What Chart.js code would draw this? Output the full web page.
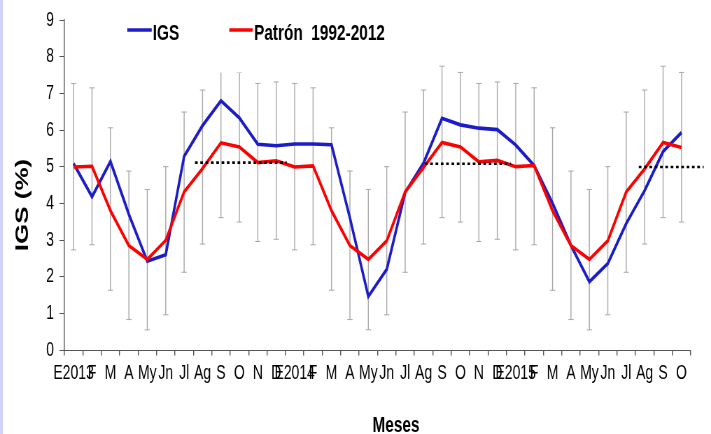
<!DOCTYPE html>
<html>
<head>
<meta charset="utf-8">
<script src="https://cdn.jsdelivr.net/npm/chart.js@4.4.1/dist/chart.umd.min.js"></script>
<style>
  html, body { margin: 0; padding: 0; background: #fff; overflow: hidden; }
  #wrap {
    position: absolute; left: 0; top: 0;
    width: 1016px; height: 434px;
    transform: scaleX(0.6998); transform-origin: 0 0;
  }
  #edge {
    position: absolute; left: 0; top: 0; width: 3px; height: 434px;
    background: #d2d2fa;
  }
</style>
</head>
<body>
<div id="wrap"><canvas id="igsChart"></canvas></div>
<div id="edge"></div>
<script>
// Months Jan 2013 - Oct 2015
const months = ["E2013", "F", "M", "A", "My", "Jn", "Jl", "Ag", "S", "O", "N", "D",
                "E2014", "F", "M", "A", "My", "Jn", "Jl", "Ag", "S", "O", "N", "D",
                "E2015", "F", "M", "A", "My", "Jn", "Jl", "Ag", "S", "O"];

// IGS (%) observed
const igs = [5.08, 4.18, 5.14, 3.70, 2.42, 2.60, 5.28, 6.12, 6.80, 6.33, 5.61, 5.57,
             5.62, 5.62, 5.60, 3.60, 1.46, 2.20, 4.30, 5.10, 6.32, 6.14, 6.05, 6.01,
             5.59, 5.03, 4.00, 2.85, 1.86, 2.36, 3.45, 4.35, 5.41, 5.93];

// Patron 1992-2012 (monthly mean)
const patron = [4.99, 5.01, 3.80, 2.85, 2.47, 2.99, 4.31, 4.95, 5.65, 5.54, 5.11, 5.16,
                4.99, 5.02, 3.80, 2.85, 2.47, 2.98, 4.31, 4.98, 5.66, 5.54, 5.13, 5.17,
                5.00, 5.03, 3.80, 2.85, 2.47, 2.98, 4.31, 4.94, 5.66, 5.52];

// error bar range of the pattern
const errLow = [2.73, 2.87, 1.63, 0.83, 0.55, 0.96, 2.12, 2.89, 3.61, 3.49, 2.96, 3.02,
                2.73, 2.87, 1.63, 0.83, 0.55, 0.96, 2.12, 2.89, 3.61, 3.49, 2.96, 3.02,
                2.73, 2.87, 1.63, 0.83, 0.55, 0.96, 2.12, 2.89, 3.61, 3.49];
const errHigh = [7.27, 7.15, 6.06, 4.88, 4.38, 5.00, 6.49, 7.09, 7.74, 7.57, 7.27, 7.31,
                 7.27, 7.15, 6.06, 4.88, 4.38, 5.00, 6.49, 7.09, 7.74, 7.57, 7.27, 7.31,
                 7.27, 7.15, 6.06, 4.88, 4.38, 5.00, 6.49, 7.09, 7.74, 7.57];

// dotted reference lines: [startIndex, endIndex, value]
const meanLines = [[6.59, 11.57, 5.11], [19.07, 23.74, 5.08], [30.68, 34.2, 4.99]];

const yTicks = [0, 1, 2, 3, 4, 5, 6, 7, 8, 9];

const FONT = "'Liberation Sans', Arial, sans-serif";
const SX = 0.6998; // horizontal squeeze of the wrapper

const errorBars = {
  id: 'errorBars',
  beforeDatasetsDraw(chart) {
    const ctx = chart.ctx, xs = chart.scales.x, ys = chart.scales.y;
    ctx.save();
    ctx.strokeStyle = '#a8a8a8';
    for (let i = 0; i < errLow.length; i++) {
      const x = xs.getPixelForValue(i);
      const y1 = ys.getPixelForValue(errLow[i]);
      const y2 = ys.getPixelForValue(errHigh[i]);
      ctx.lineWidth = 1 / SX;
      ctx.beginPath();
      ctx.moveTo(x, y1); ctx.lineTo(x, y2);
      ctx.stroke();
      ctx.lineWidth = 1;
      ctx.beginPath();
      ctx.moveTo(x - 3.8, y1); ctx.lineTo(x + 3.8, y1);
      ctx.moveTo(x - 3.8, y2); ctx.lineTo(x + 3.8, y2);
      ctx.stroke();
    }
    ctx.restore();
  }
};

const labelsPlugin = {
  id: 'labelsPlugin',
  afterDraw(chart) {
    const ctx = chart.ctx;
    ctx.save();
    // legend box (white, hides the tops of some bars as in the original)
    ctx.fillStyle = '#fff';
    ctx.fillRect(110 / SX, 4, 295 / SX, 68.5);

    const items = [
      { ds: chart.data.datasets[4], x0: 127.3, x1: 151.7, tx: 152.7 },
      { ds: chart.data.datasets[3], x0: 229.3, x1: 252.7, tx: 254 }
    ];
    ctx.font = 'bold 22px ' + FONT;
    ctx.textBaseline = 'alphabetic';
    ctx.textAlign = 'left';
    items.forEach(it => {
      ctx.strokeStyle = it.ds.borderColor;
      ctx.lineWidth = 3.5;
      ctx.beginPath();
      ctx.moveTo(it.x0 / SX, 30); ctx.lineTo(it.x1 / SX, 30);
      ctx.stroke();
      ctx.fillStyle = '#000';
      ctx.fillText(it.ds.label, it.tx / SX, 40);
    });

    // axis titles
    ctx.font = 'bold 22px ' + FONT;
    ctx.textAlign = 'center';
    ctx.fillText('Meses', 396 / SX, 432);

    ctx.translate(23 / SX, 205);
    ctx.rotate(-Math.PI / 2);
    ctx.font = 'bold 26px ' + FONT;
    ctx.textBaseline = 'middle';
    ctx.fillText('IGS (%)', 0, 0);
    ctx.restore();
  }
};

const dottedSets = meanLines.map(m => ({
  label: 'media',
  xAxisID: 'x2',
  data: [{ x: m[0], y: m[2] }, { x: m[1], y: m[2] }],
  borderColor: '#000',
  borderWidth: 2.6,
  borderDash: [3.8, 3.8],
  pointRadius: 0,
  fill: false,
  clip: false,
  order: 0
}));

new Chart(document.getElementById('igsChart'), {
  type: 'line',
  data: {
    labels: months,
    datasets: [
      ...dottedSets,
      {
        label: 'Patrón  1992-2012',
        data: patron,
        borderColor: '#ff0000',
        borderWidth: 3.6,
        pointRadius: 0,
        tension: 0,
        fill: false,
        order: 1
      },
      {
        label: 'IGS',
        data: igs,
        borderColor: '#1c1cc8',
        borderWidth: 3.6,
        pointRadius: 0,
        tension: 0,
        fill: false,
        order: 2
      }
    ]
  },
  options: {
    responsive: true,
    maintainAspectRatio: false,
    animation: false,
    layout: { padding: { left: 0, right: 29, top: 16, bottom: 0 } },
    plugins: {
      legend: { display: false },
      tooltip: { enabled: false }
    },
    scales: {
      x: {
        type: 'category',
        offset: true,
        afterFit(s) { s.height = 84; },
        grid: {
          offset: true,
          drawOnChartArea: false,
          drawTicks: true,
          tickLength: 5.5,
          color: '#555',
          lineWidth: 1 / SX
        },
        border: { color: '#555', width: 1 },
        ticks: {
          autoSkip: false,
          maxRotation: 0,
          minRotation: 0,
          padding: 6,
          color: '#000',
          font: { family: FONT, size: 20 }
        }
      },
      x2: {
        type: 'linear',
        display: false,
        min: -0.5,
        max: 33.5,
        offset: false
      },
      y: {
        min: 0,
        max: 9,
        afterFit(s) { s.width = 92; },
        afterBuildTicks(s) { s.ticks = yTicks.map(v => ({ value: v })); },
        grid: {
          drawOnChartArea: false,
          drawTicks: true,
          tickLength: 7,
          color: '#555',
          lineWidth: 1
        },
        border: { color: '#555', width: 1 / SX },
        ticks: {
          padding: 8,
          color: '#000',
          font: { family: FONT, size: 20 }
        }
      }
    }
  },
  plugins: [errorBars, labelsPlugin]
});
</script>
</body>
</html>
